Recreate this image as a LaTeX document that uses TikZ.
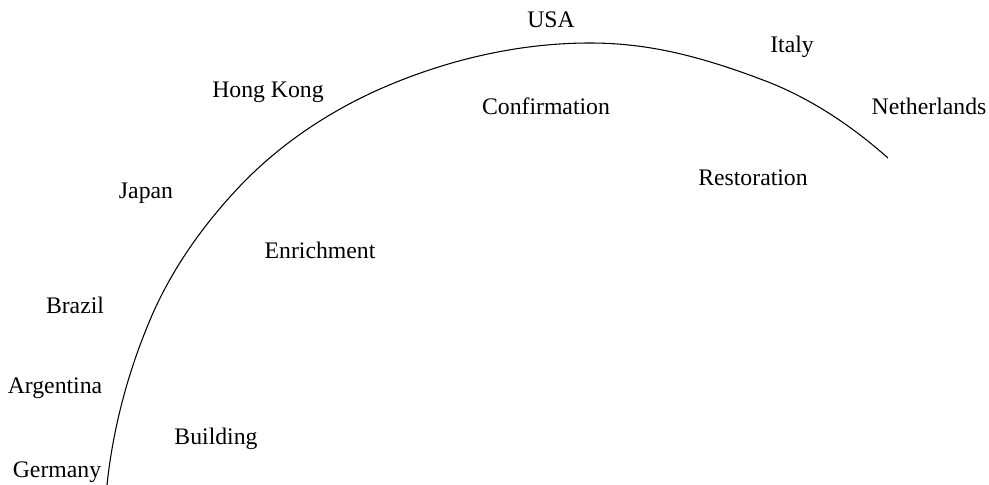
\documentclass[tikz,border=0pt]{standalone}
\usepackage{fontspec}
\setmainfont{Liberation Serif}
\usetikzlibrary{positioning}
\tikzset{
  place/.style={
    font=\fontsize{17.8pt}{20pt}\selectfont,
    inner sep=0pt,
    anchor=center
  },
  phase/.style={
    font=\fontsize{17.8pt}{20pt}\selectfont,
    inner sep=0pt,
    anchor=center
  },
  curve/.style={line width=0.8pt}
}

\begin{document}
\begin{tikzpicture}[x=0.75pt,y=-0.75pt]
  \useasboundingbox (0,0) rectangle (989,485);

  % the arc
  \coordinate (start) at (107,485);
  \coordinate (top) at (590,43);
  \coordinate (stop) at (888,158);
  \draw[curve] (start)
    .. controls (113,428) and (128,372) .. (150,320)
    .. controls (171,270) and (203,225) .. (240,186)
    .. controls (279,145) and (328,112) .. (380,89)
    .. controls (446,60) and (518,43) .. (top)
    .. controls (650,43) and (702,57) .. (763,80)
    .. controls (811,98) and (853,127) .. (stop);

  % countries along the outside
  \node[place] (germany) at (57,472) {Germany};
  \node[place] (argentina) at (55,388) {Argentina};
  \node[place] (brazil) at (75,305) {Brazil};
  \node[place] (japan) at (146,193) {Japan};
  \node[place] (hongkong) at (268,92) {Hong Kong};
  \node[place] (usa) at (551,20) {USA};
  \node[place] (italy) at (792,47) {Italy};
  \node[place] (netherlands) at (929,106) {Netherlands};

  % stages on the inside
  \node[phase] (building) at (216,439) {Building};
  \node[phase] (enrichment) at (320,250) {Enrichment};
  \node[phase] (confirmation) at (546,106) {Confirmation};
  \node[phase] (restoration) at (753,178) {Restoration};
\end{tikzpicture}
\end{document}
